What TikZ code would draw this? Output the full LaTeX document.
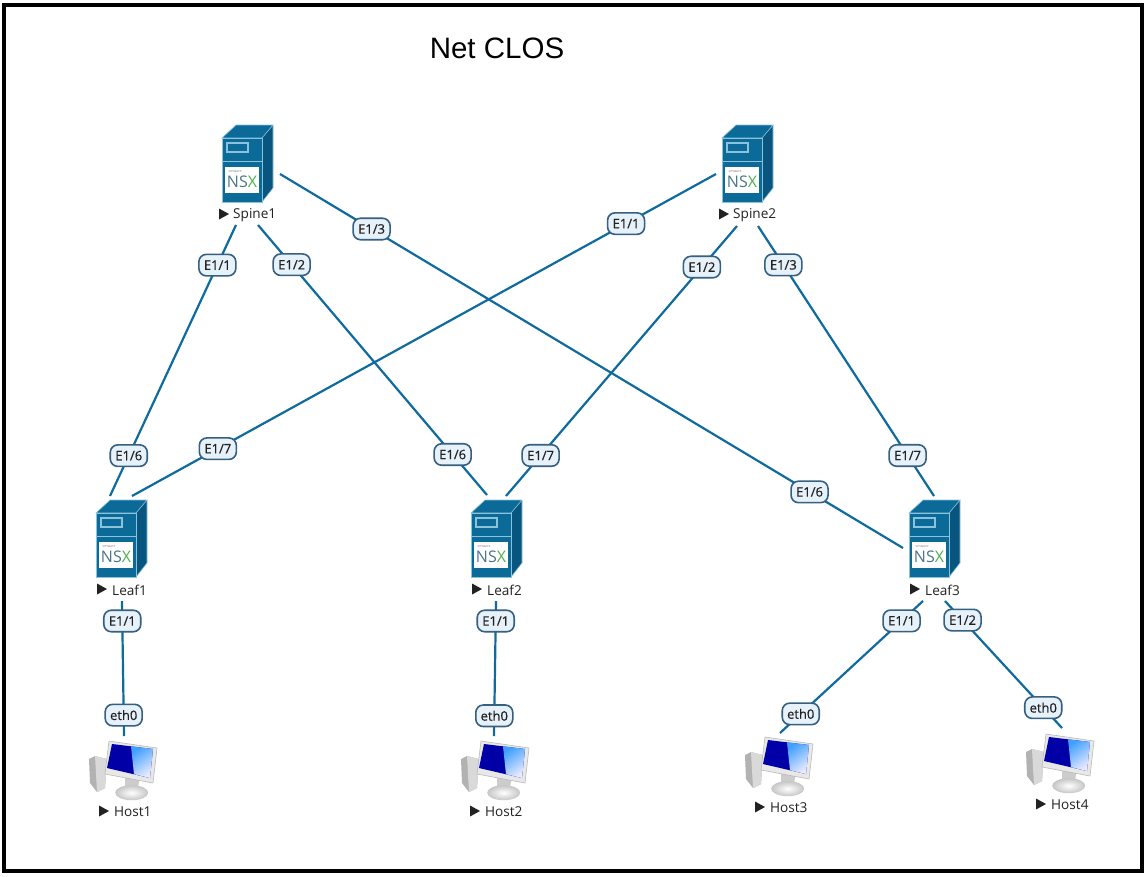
\documentclass[tikz,border=0pt]{standalone}
\usepackage{fontspec}
\setmainfont{Open Sans}
\newfontfamily\titlefont{Liberation Sans}
\newfontfamily\labfont[FakeBold=0.5]{Open Sans}
\usetikzlibrary{calc}
\definecolor{srv}{HTML}{0B6A98}
\definecolor{srvdark}{HTML}{08567F}
\definecolor{srvline}{HTML}{8CC3DC}
\definecolor{linkc}{HTML}{0F6A9E}
\definecolor{labfill}{HTML}{E6F1FA}
\definecolor{labline}{HTML}{36607F}
\definecolor{txt}{HTML}{222222}
\tikzset{
  x=1pt,y=-1pt,
  link/.style={draw=linkc,line width=2.2pt},
  portlab/.style={draw=labline,line width=1.6pt,fill=labfill,rounded corners=7.5pt,inner sep=0pt,minimum height=21.5pt,minimum width=37pt,text=txt,font=\labfont\fontsize{13}{14}\selectfont},
  hostlab/.style={anchor=west,inner sep=0pt,text=txt,font=\fontsize{13.6}{15}\selectfont},
  tri/.style={fill=txt,draw=none},
  device/.style={draw=none,inner sep=0pt,minimum width=52pt,minimum height=78pt},
  pc/.style={draw=none,inner sep=0pt,minimum width=70pt,minimum height=60pt},
  pics/server/.style={code={
    \fill[srv] (0,13) -- (14,0) -- (51,0) -- (40,13) -- cycle;
    \fill[srvdark] (40,13) -- (51,0) -- (51,63) -- (40,77) -- cycle;
    \fill[srv] (0,13) rectangle (40,77);
    \draw[srvline,line width=.6pt] (0,13) -- (14,0) -- (51,0) -- (40,13) -- cycle;
    \draw[srvline,line width=.6pt] (51,0) -- (51,63) -- (40,77);
    \draw[srvline,line width=.6pt] (0,13) rectangle (40,77);
    \draw[srvline,line width=1.5pt] (5,18) rectangle (26,27);
    \draw[srvline,line width=1.2pt] (0,36.5) -- (40,36.5);
    \fill[white] (3,42) rectangle (37,68);
    \node[inner sep=0pt,text=gray,font=\fontsize{3.5}{4}\selectfont] at (13,46.5) {vmware};
    \node[inner sep=0pt,font=\fontsize{16}{16}\selectfont] at (20,57) {\textcolor{srv!45!gray}{NS}\textcolor{green!40!gray}{X}};
  }},
  pics/host/.style={code={
    \fill[gray!60] (1,19) -- (7,16) -- (19,19) -- (17,48) -- (9,52) -- (2,43) -- cycle;
    \fill[gray!30] (7,16) -- (19,19) -- (17,48) -- (9,52) -- cycle;
    \fill[gray!40] (37,32) -- (52,35) -- (50,48) -- (37,47) -- cycle;
    \shade[inner color=white,outer color=gray!45] (43.7,52.7) ellipse [x radius=16.5,y radius=7.5];
    \fill[gray!18] (21,1) -- (69,8) -- (65,43) -- (17,34) -- cycle;
    \draw[gray!55,line width=.6pt] (21,1) -- (69,8) -- (65,43) -- (17,34) -- cycle;
    \fill[blue!65!black] (24,4) -- (65,9) -- (62,38) -- (19,28) -- cycle;
    \shade[left color=blue!50!cyan!75!white,right color=blue!8!white,shading angle=35] (43,6.3) -- (65,9) -- (62,38) -- (46,34.2) -- cycle;
  }}
}
\newcommand{\tname}[2]{% x y
  \fill[tri] (#1,#2-5.5) -- (#1+10,#2) -- (#1,#2+5.5) -- cycle;
}
\begin{document}
\begin{tikzpicture}
\useasboundingbox (0,0) rectangle (1146,876);
\fill[white] (0,0) rectangle (1146,876);
\draw[black,line width=3.6pt] (4,5) rectangle (1142,871);
\node[inner sep=0pt,font=\titlefont\fontsize{29.5}{32}\selectfont] (title) at (497,48) {Net CLOS};
% devices
\node[device] (spine1) at (248,164) {};
\node[device] (spine2) at (748,164) {};
\node[device] (leaf1) at (122,539) {};
\node[device] (leaf2) at (497,539) {};
\node[device] (leaf3) at (935,539) {};
\node[pc] (host1) at (123,770) {};
\node[pc] (host2) at (495,770) {};
\node[pc] (host3) at (779,766) {};
\node[pc] (host4) at (1060,763) {};
\pic at (222,125) {server};
\pic at (722,125) {server};
\pic at (96,500) {server};
\pic at (471,500) {server};
\pic at (909,500) {server};
\pic at (88,740) {host};
\pic at (460,740) {host};
\pic at (744,736) {host};
\pic at (1025,733) {host};
% device names
\tname{219}{214} \node[hostlab] (n1) at (233,215) {Spine1};
\tname{719}{214} \node[hostlab] (n2) at (733,215) {Spine2};
\tname{97}{589} \node[hostlab] (n3) at (112,590) {Leaf1};
\tname{472}{589} \node[hostlab] (n4) at (487,590) {Leaf2};
\tname{910}{589} \node[hostlab] (n5) at (925,590) {Leaf3};
\tname{99}{811} \node[hostlab] (n6) at (114,812) {Host1};
\tname{470}{811} \node[hostlab] (n7) at (485,812) {Host2};
\tname{755}{807} \node[hostlab] (n8) at (770,808) {Host3};
\tname{1036}{804} \node[hostlab] (n9) at (1051,805) {Host4};
% connector ends
\coordinate (sa1) at ($(spine1)+(-12,61)$);
\coordinate (sa2) at ($(spine1)+(10,61)$);
\coordinate (sa3) at ($(spine1)+(32,10)$);
\coordinate (sb1) at ($(spine2)+(-32,10)$);
\coordinate (sb2) at ($(spine2)+(-11,62)$);
\coordinate (sb3) at ($(spine2)+(10,62)$);
\coordinate (la1) at ($(leaf1)+(-12,-43)$);
\coordinate (la2) at ($(leaf1)+(10,-43)$);
\coordinate (la3) at ($(leaf1)+(0,62)$);
\coordinate (lb1) at ($(leaf2)+(-10,-44)$);
\coordinate (lb2) at ($(leaf2)+(9,-43)$);
\coordinate (lb3) at ($(leaf2)+(-1,62)$);
\coordinate (lc1) at ($(leaf3)+(-32,9)$);
\coordinate (lc2) at ($(leaf3)+(-1,-43)$);
\coordinate (lc3) at ($(leaf3)+(-12,62)$);
\coordinate (lc4) at ($(leaf3)+(10,62)$);
\coordinate (ha) at ($(host1)+(1,-34)$);
\coordinate (hb) at ($(host2)+(-1,-34)$);
\coordinate (hc) at ($(host3)+(1,-33)$);
\coordinate (hd) at ($(host4)+(2,-35)$);
% connectors with their port labels
\draw[link] (sa1) -- node[portlab,pos=.148] (p1) {E1/1} node[portlab,pos=.851] (p2) {E1/6} (la1);
\draw[link] (sa2) -- node[portlab,pos=.147] (p3) {E1/2} node[portlab,pos=.85] (p4) {E1/6} (lb1);
\draw[link] (sa3) -- node[portlab,pos=.147] (p5) {E1/3} node[portlab,pos=.85] (p6) {E1/6} (lc1);
\draw[link] (sb1) -- node[portlab,pos=.154] (p7) {E1/1} node[portlab,pos=.853] (p8) {E1/7} (la2);
\draw[link] (sb2) -- node[portlab,pos=.152] (p9) {E1/2} node[portlab,pos=.85] (p10) {E1/7} (lb2);
\draw[link] (sb3) -- node[portlab,pos=.144] (p11) {E1/3} node[portlab,pos=.85] (p12) {E1/7} (lc2);
\draw[link] (la3) -- node[portlab,pos=.148] (p13) {E1/1} node[portlab,pos=.845] (p14) {eth0} (ha);
\draw[link] (lb3) -- node[portlab,pos=.148] (p15) {E1/1} node[portlab,pos=.85] (p16) {eth0} (hb);
\draw[link] (lc3) -- node[portlab,pos=.15] (p17) {E1/1} node[portlab,pos=.855] (p18) {eth0} (hc);
\draw[link] (lc4) -- node[portlab,pos=.15] (p19) {E1/2} node[portlab,pos=.84] (p20) {eth0} (hd);
\end{tikzpicture}
\end{document}
